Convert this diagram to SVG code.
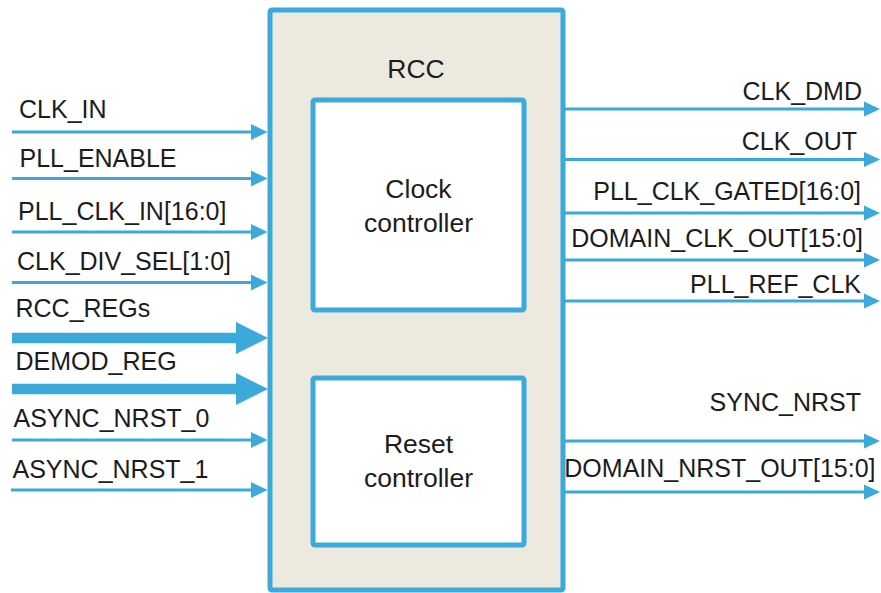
<svg xmlns="http://www.w3.org/2000/svg" width="881" height="593" viewBox="0 0 881 593">
<defs>
<style>
.lbl{font-family:"Liberation Sans",Arial,sans-serif;font-size:25px;fill:#1c1c1c}
.in{font-family:"Liberation Sans",Arial,sans-serif;font-size:26.5px;fill:#1c1c1c;text-anchor:middle}
.r{text-anchor:end}
.box{stroke:#3CA9DB;stroke-width:5}
.w{stroke:#3CA9DB;stroke-width:3;fill:none}
.t{stroke:#3CA9DB;stroke-width:10.5;fill:none}
.ai{marker-end:url(#ah)}
.ao{marker-end:url(#ao)}
.at{marker-end:url(#at)}
</style>
<marker id="ah" markerUnits="userSpaceOnUse" markerWidth="17" markerHeight="16" refX="7" refY="8" orient="auto" overflow="visible">
<path d="M0,0 L16.5,8 L0,16 Z" fill="#3CA9DB"/>
</marker>
<marker id="ao" markerUnits="userSpaceOnUse" markerWidth="16" markerHeight="15" refX="6" refY="7.5" orient="auto" overflow="visible">
<path d="M0,0 L16,7.5 L0,15 Z" fill="#3CA9DB"/>
</marker>
<marker id="at" markerUnits="userSpaceOnUse" markerWidth="32" markerHeight="32" refX="12" refY="16" orient="auto" overflow="visible">
<path d="M0,0 L32,16 L0,32 Z" fill="#3CA9DB"/>
</marker>
</defs>
<rect width="881" height="593" fill="#ffffff"/>

<g id="rcc">
<rect class="box" x="270" y="10" width="293" height="580" rx="2" fill="#ECE9DF"/>
<text class="in" x="416" y="78">RCC</text>
</g>
<g id="clock-controller">
<rect class="box" x="313" y="100" width="211" height="210" rx="2" fill="#ffffff"/>
<text class="in" x="418.5" y="198">Clock</text>
<text class="in" x="418.5" y="231.5">controller</text>
</g>
<g id="reset-controller">
<rect class="box" x="313" y="378" width="211" height="167" rx="2" fill="#ffffff"/>
<text class="in" x="418.5" y="453">Reset</text>
<text class="in" x="418.5" y="486.5">controller</text>
</g>

<g id="connectors">
<line class="w ai" x1="12" y1="132" x2="258" y2="132"/>
<line class="w ai" x1="12" y1="178.5" x2="258" y2="178.5"/>
<line class="w ai" x1="12" y1="232" x2="258" y2="232"/>
<line class="w ai" x1="12" y1="282.5" x2="258" y2="282.5"/>
<line class="t at" x1="12" y1="338" x2="248" y2="338"/>
<line class="t at" x1="12" y1="389" x2="248" y2="389"/>
<line class="w ai" x1="12" y1="440" x2="258" y2="440"/>
<line class="w ai" x1="11" y1="490" x2="258" y2="490"/>

<line class="w ao" x1="564" y1="109" x2="870" y2="109"/>
<line class="w ao" x1="564" y1="159.5" x2="870" y2="159.5"/>
<line class="w ao" x1="564" y1="213" x2="870" y2="213"/>
<line class="w ao" x1="564" y1="260" x2="870" y2="260"/>
<line class="w ao" x1="564" y1="301" x2="870" y2="301"/>
<line class="w ao" x1="564" y1="441" x2="870" y2="441"/>
<line class="w ao" x1="564" y1="492" x2="870" y2="492"/>
</g>

<g id="labels">
<text class="lbl" x="19" y="118">CLK_IN</text>
<text class="lbl" x="19.5" y="166.5">PLL_ENABLE</text>
<text class="lbl" x="18" y="220">PLL_CLK_IN[16:0]</text>
<text class="lbl" x="17" y="270">CLK_DIV_SEL[1:0]</text>
<text class="lbl" x="15.5" y="317">RCC_REGs</text>
<text class="lbl" x="15.5" y="370">DEMOD_REG</text>
<text class="lbl" x="13.5" y="427">ASYNC_NRST_0</text>
<text class="lbl" x="12.5" y="478">ASYNC_NRST_1</text>

<text class="lbl r" x="862" y="100">CLK_DMD</text>
<text class="lbl r" x="857" y="150">CLK_OUT</text>
<text class="lbl r" x="861" y="200">PLL_CLK_GATED[16:0]</text>
<text class="lbl r" x="863" y="247">DOMAIN_CLK_OUT[15:0]</text>
<text class="lbl r" x="861" y="292.5">PLL_REF_CLK</text>
<text class="lbl r" x="861" y="410.5">SYNC_NRST</text>
<text class="lbl r" x="875.5" y="477">DOMAIN_NRST_OUT[15:0]</text>
</g>
</svg>
